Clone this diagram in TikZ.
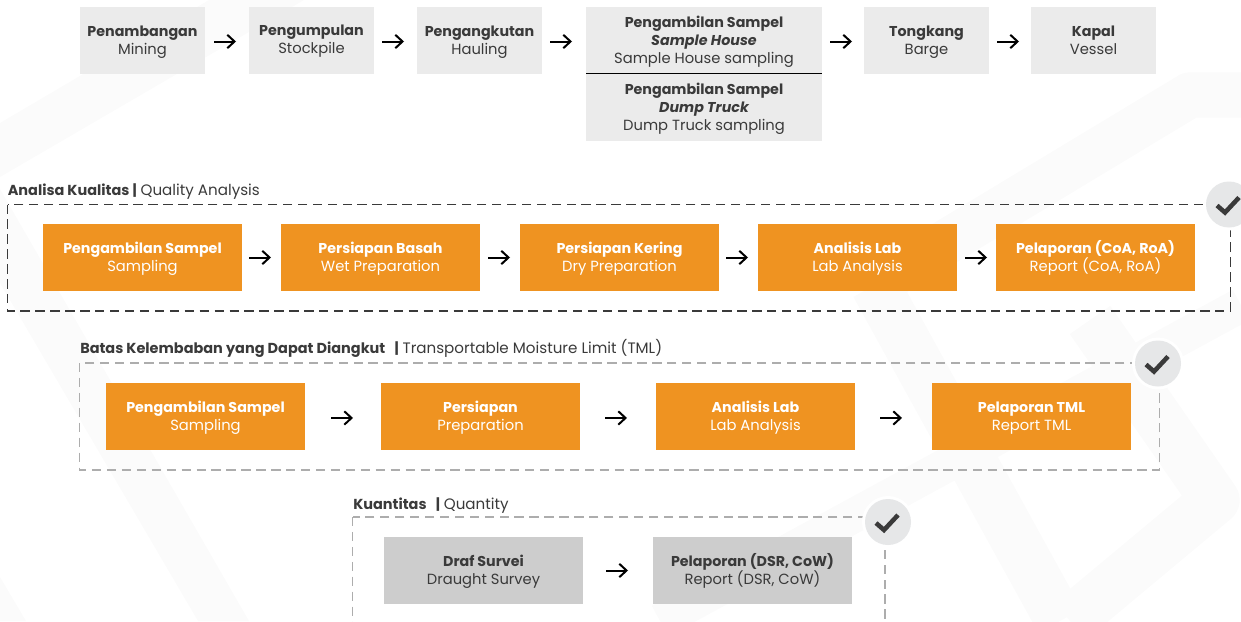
\documentclass[tikz,border=0pt]{standalone}
\usepackage{fontspec}
\setmainfont{Poppins}
\usetikzlibrary{arrows.meta}
\definecolor{ink}{HTML}{3A3A3A}
\definecolor{soft}{HTML}{EBEBEB}
\definecolor{mid}{HTML}{CDCDCD}
\definecolor{amber}{HTML}{EF9321}
\definecolor{disc}{HTML}{E6E7E8}
\definecolor{wm}{HTML}{FBFBFB}
\newcommand{\hb}[1]{{\fontsize{10.7}{13.5}\selectfont\bfseries #1}}
\newcommand{\hbi}[1]{{\fontsize{10.7}{13.5}\selectfont\bfseries\itshape #1}}
\newcommand{\rg}[1]{{\fontsize{11.05}{13.5}\selectfont #1}}
\newcommand{\topline}{\rule{0pt}{10pt}}
\newcommand{\lowline}{\rule[-3pt]{0pt}{0pt}}
\newcommand{\two}[2]{\topline\hb{#1}\\\rg{#2}\lowline}
\newcommand{\three}[3]{\topline\hb{#1}\\\hbi{#2}\\\rg{#3}\lowline}
\newcommand{\hd}[2]{{\fontsize{10.85}{13.5}\selectfont\bfseries #1} {\fontsize{11.35}{13.5}\selectfont #2}}
\tikzset{
  px/.style={x=0.75pt,y=-0.75pt},
  base/.style={inner sep=0pt,outer sep=0pt,align=center,font=\fontsize{10.7}{13.5}\selectfont},
  graybox/.style={base,fill=soft,text=ink,minimum width=93.75pt,minimum height=50.25pt},
  widebox/.style={graybox,minimum width=177pt},
  orangebox/.style={base,fill=amber,text=white,minimum width=149.25pt,minimum height=50.25pt},
  midbox/.style={base,fill=mid,text=ink,minimum width=149.25pt,minimum height=50.25pt},
  heading/.style={inner sep=0pt,anchor=base west,text=ink,font=\fontsize{10.8}{13.5}\selectfont},
  flow/.style 2 args={-{Straight Barb[length=5.4pt,width=10pt,line width=1.5pt]},line width=1.5pt,black,shorten <=#1*0.75pt,shorten >=#2*0.75pt},
  frameA/.style={draw=ink,line width=0.95pt,dash pattern=on 7pt off 4.2pt},
  frameB/.style={draw=black!32,line width=0.95pt,dash pattern=on 7pt off 4.2pt},
  band/.style={draw=wm,line join=round,line cap=butt},
  ring/.style={circle,fill=white,inner sep=0pt,minimum size=39pt},
  tick/.style={circle,fill=disc,inner sep=0pt,minimum size=34.5pt},
  checkline/.style={draw=ink,line width=3.4pt,line join=miter}
}
\begin{document}
\begin{tikzpicture}[px]
\useasboundingbox (0,0) rectangle (1241,621);
\clip (0,0) rectangle (1241,621);
% faint watermark
\fill[wm] (209,0)--(304,0)--(0,177)--(0,123)--cycle;
\fill[wm] (0,189)--(249,621)--(198,621)--(0,283)--cycle;
\fill[wm] (0,577)--(26,621)--(0,621)--cycle;
\draw[band,line width=34pt] (1241,95)--(1190,95)--(875,285);
\draw[band,line width=37pt] (875,285)--(1060,621);
\draw[band,line width=26pt] (1241,305)--(660,621);
\draw[band,line width=37pt] (1090,320)--(1215,500)--(1070,621);
% top row
\node[graybox] (mining) at (142.5,40.5) {\two{Penambangan}{Mining}};
\node[graybox] (stock) at (311.5,40.5) {\topline\hb{Pengumpulan}\\\rg{Stockpile}\rule[-4.5pt]{0pt}{0pt}};
\node[graybox] (haul) at (479.5,40.5) {\two{Pengangkutan}{Hauling}};
\node[widebox] (house) at (704,40.5) {\three{Pengambilan Sampel}{Sample House}{Sample House sampling}};
\node[widebox] (truck) at (704,107.5) {\three{Pengambilan Sampel}{Dump Truck}{Dump Truck sampling}};
\node[graybox] (barge) at (926.5,40.5) {\two{Tongkang}{Barge}};
\node[graybox] (vessel) at (1093.5,40.5) {\two{Kapal}{Vessel}};
\draw[black,line width=0.75pt] ([yshift=0.4pt]house.south west)--([yshift=0.4pt]house.south east);
\draw[flow={9}{13}] ([yshift=-0.75pt]mining.east)--([yshift=-0.75pt]stock.west);
\draw[flow={8}{13}] ([yshift=-0.75pt]stock.east)--([yshift=-0.75pt]haul.west);
\draw[flow={8}{14}] ([yshift=-0.75pt]haul.east)--([yshift=-0.75pt]house.west);
\draw[flow={8}{12}] ([yshift=-0.75pt]house.east)--([yshift=-0.75pt]barge.west);
\draw[flow={8}{12}] ([yshift=-0.75pt]barge.east)--([yshift=-0.75pt]vessel.west);
% quality
\node[heading] (qhead) at (7.5,195) {\hd{Analisa Kualitas |}{Quality Analysis}};
\draw[frameA] (7.5,204.5) rectangle (1230.5,311);
\node[orangebox] (q1) at (142.5,257.5) {\two{Pengambilan Sampel}{Sampling}};
\node[orangebox] (q2) at (380.5,257.5) {\two{Persiapan Basah}{Wet Preparation}};
\node[orangebox] (q3) at (619.5,257.5) {\two{Persiapan Kering}{Dry Preparation}};
\node[orangebox] (q4) at (857.5,257.5) {\two{Analisis Lab}{Lab Analysis}};
\node[orangebox] (q5) at (1095.5,257.5) {\two{Pelaporan (CoA, RoA)}{Report (CoA, RoA)}};
\draw[flow={7}{10}] (q1.east)--(q2.west);
\draw[flow={8}{10}] (q2.east)--(q3.west);
\draw[flow={7}{10}] (q3.east)--(q4.west);
\draw[flow={8}{9}] (q4.east)--(q5.west);
\node[ring] (qring) at (1229,204.5) {};
\node[tick] (qdisc) at (1229,204.5) {};
\draw[checkline] ([shift={(-12,1)}]qdisc.center)--([shift={(-4,8)}]qdisc.center)--([shift={(10,-7)}]qdisc.center);
% tml
\node[heading] (thead) at (80,353) {\hd{Batas Kelembaban yang Dapat Diangkut\ \ \ |}{Transportable Moisture Limit (TML)}};
\draw[frameB] (79.5,363) rectangle (1159.5,470);
\node[orangebox] (t1) at (205.5,416.5) {\two{Pengambilan Sampel}{Sampling}};
\node[orangebox] (t2) at (480.5,416.5) {\two{Persiapan}{Preparation}};
\node[orangebox] (t3) at (755.5,416.5) {\two{Analisis Lab}{Lab Analysis}};
\node[orangebox] (t4) at (1031.5,416.5) {\two{Pelaporan TML}{Report TML}};
\draw[flow={26}{28}] ([yshift=-1.1pt]t1.east)--([yshift=-1.1pt]t2.west);
\draw[flow={25}{29}] ([yshift=-1.1pt]t2.east)--([yshift=-1.1pt]t3.west);
\draw[flow={25}{30}] ([yshift=-1.1pt]t3.east)--([yshift=-1.1pt]t4.west);
\node[ring] (tring) at (1158,363.5) {};
\node[tick] (tdisc) at (1158,363.5) {};
\draw[checkline] ([shift={(-12,1)}]tdisc.center)--([shift={(-4,8)}]tdisc.center)--([shift={(10,-7)}]tdisc.center);
% quantity
\node[heading] (khead) at (353,509) {\hd{Kuantitas\ \ \ |}{Quantity}};
\draw[frameB] (352.5,517) rectangle (885,660);
\node[midbox] (k1) at (483.5,570.5) {\topline\hb{Draf Survei}\hspace{3pt}\\\rg{Draught Survey}\lowline};
\node[midbox] (k2) at (752.5,570.5) {\two{Pelaporan (DSR, CoW)}{Report (DSR, CoW)}};
\draw[flow={23}{25}] (k1.east)--(k2.west);
\node[ring] (kring) at (888,522) {};
\node[tick] (kdisc) at (888,522) {};
\draw[checkline] ([shift={(-12,1)}]kdisc.center)--([shift={(-4,8)}]kdisc.center)--([shift={(10,-7)}]kdisc.center);
\end{tikzpicture}
\end{document}
